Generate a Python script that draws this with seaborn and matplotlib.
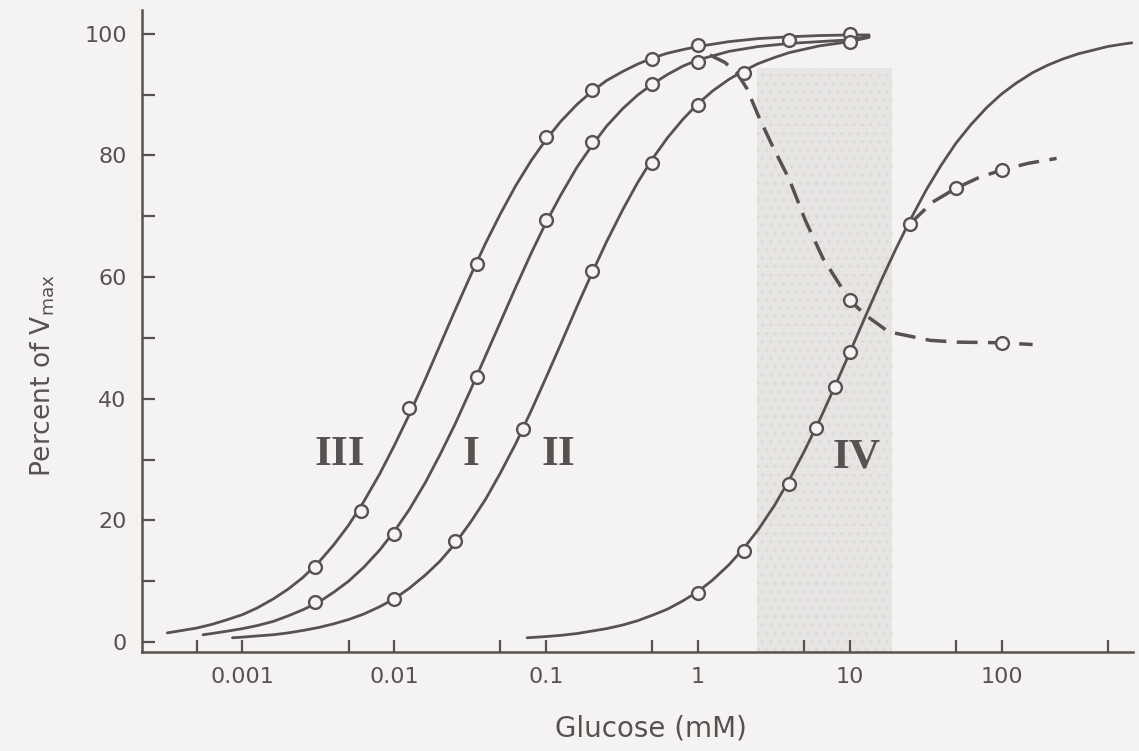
import matplotlib
matplotlib.use("Agg")
import matplotlib.pyplot as plt
from matplotlib.ticker import NullFormatter
import seaborn as sns

# ---------------- data ----------------
# measured points (glucose mM, percent of Vmax)
iii_x = [0.003, 0.006, 0.0125, 0.035, 0.1, 0.2, 0.5, 1, 4, 10]
iii_y = [12.4, 21.5, 38.5, 62.2, 83.0, 90.8, 95.9, 98.1, 99.0, 99.9]
i_x = [0.003, 0.01, 0.035, 0.1, 0.2, 0.5, 1, 10]
i_y = [6.6, 17.8, 43.5, 69.3, 82.2, 91.7, 95.3, 98.6]
ii_x = [0.01, 0.025, 0.07, 0.2, 0.5, 1, 2]
ii_y = [7.1, 16.6, 35.0, 61.0, 78.8, 88.3, 93.6]
iv_x = [1, 2, 4, 6, 8, 10, 25]
iv_y = [8.0, 15.0, 26.0, 35.2, 42.0, 47.7, 68.8]
low_x = [10, 100]
low_y = [56.2, 49.2]
up_x = [50, 100]
up_y = [74.6, 77.6]

# curve traces
iii_tx = [0.00032, 0.0004, 0.0005, 0.00063, 0.0008, 0.001, 0.00125, 0.0016, 0.002, 0.0025,
          0.0032, 0.004, 0.005, 0.0063, 0.008, 0.01, 0.0125, 0.016, 0.02, 0.025,
          0.032, 0.04, 0.05, 0.063, 0.08, 0.1, 0.125, 0.16, 0.2, 0.25,
          0.32, 0.4, 0.5, 0.63, 0.8, 1, 1.6, 2.5, 4, 6.3, 10, 13.4]
iii_ty = [1.5, 1.9, 2.3, 2.9, 3.7, 4.5, 5.6, 7.1, 8.7, 10.6,
          13.2, 16.0, 19.2, 23.1, 27.6, 32.3, 37.3, 43.2, 48.8, 54.4,
          60.4, 65.6, 70.4, 75.0, 79.2, 82.6, 85.6, 88.4, 90.5, 92.3,
          93.8, 95.0, 96.0, 96.8, 97.4, 97.9, 98.7, 99.2, 99.5, 99.7, 99.8, 99.8]
i_tx = [0.00055, 0.00063, 0.0008, 0.001, 0.00125, 0.0016, 0.002, 0.0025, 0.0032, 0.004,
        0.005, 0.0063, 0.008, 0.01, 0.0125, 0.016, 0.02, 0.025, 0.032, 0.04,
        0.05, 0.063, 0.08, 0.1, 0.125, 0.16, 0.2, 0.25, 0.32, 0.4,
        0.5, 0.63, 0.8, 1, 1.6, 2.5, 4, 6.3, 10, 13.4]
i_ty = [1.2, 1.4, 1.8, 2.2, 2.7, 3.4, 4.3, 5.3, 6.6, 8.2,
        10.0, 12.3, 15.1, 18.2, 21.7, 26.2, 30.8, 35.7, 41.6, 47.1,
        52.6, 58.3, 64.0, 69.0, 73.5, 78.1, 81.6, 84.8, 87.7, 89.9,
        91.7, 93.3, 94.7, 95.7, 97.1, 97.9, 98.4, 98.7, 99.0, 99.6]
ii_tx = [0.00086, 0.001, 0.00125, 0.0016, 0.002, 0.0025, 0.0032, 0.004, 0.005, 0.0063,
         0.008, 0.01, 0.0125, 0.016, 0.02, 0.025, 0.032, 0.04, 0.05, 0.063,
         0.08, 0.1, 0.125, 0.16, 0.2, 0.25, 0.32, 0.4, 0.5, 0.63,
         0.8, 1, 1.25, 1.6, 2, 2.5, 3.2, 4, 6.3, 10, 13.4]
ii_ty = [0.7, 0.8, 1.0, 1.2, 1.5, 1.9, 2.4, 3.0, 3.7, 4.6,
         5.8, 7.1, 8.8, 11.0, 13.3, 16.1, 19.8, 23.5, 27.8, 32.6,
         38.1, 43.5, 49.0, 55.2, 60.6, 65.8, 71.1, 75.5, 79.4, 82.9,
         86.0, 88.5, 90.6, 92.5, 93.9, 95.1, 96.1, 96.9, 98.0, 98.7, 99.4]
iv_tx = [0.075, 0.1, 0.125, 0.16, 0.2, 0.25, 0.32, 0.4, 0.5, 0.63,
         0.8, 1, 1.25, 1.6, 2, 2.5, 3.2, 4, 5, 6.3,
         8, 10, 12.5, 16, 20, 25, 32, 40, 50, 63,
         80, 100, 125, 160, 200, 250, 320, 400, 500, 630, 720]
iv_ty = [0.7, 0.9, 1.1, 1.4, 1.8, 2.2, 2.8, 3.5, 4.4, 5.4,
         6.8, 8.3, 10.2, 12.7, 15.4, 18.5, 22.5, 26.7, 31.3, 36.4,
         42.1, 47.6, 53.2, 59.3, 64.5, 69.4, 74.4, 78.4, 82.0, 85.1,
         87.9, 90.1, 91.9, 93.6, 94.8, 95.8, 96.7, 97.3, 97.9, 98.3, 98.5]
low_tx = [1.2, 1.5, 1.8, 2.1, 2.5, 3.06, 4, 5.1, 6.65, 8.7, 10, 12.6, 18, 33.7, 51, 100, 160]
low_ty = [96.5, 95.3, 93.6, 91.0, 86.5, 81.8, 76.0, 69.3, 63.1, 58.5, 56.2, 53.8, 51.0, 49.6, 49.3, 49.2, 48.9]
up_tx = [25, 35, 50, 70, 100, 150, 230]
up_ty = [68.8, 72.3, 74.6, 76.3, 77.6, 78.7, 79.5]

# curve labels
curve_names = ["III", "I", "II", "IV"]
name_x = [0.0044, 0.032, 0.121, 11]
name_y = [30.7, 30.7, 30.7, 30.3]

# shaded (physiological) glucose range, mM
band = [2.45, 19]

x_major = [0.001, 0.01, 0.1, 1, 10, 100]
x_major_labels = ["0.001", "0.01", "0.1", "1", "10", "100"]
x_minor = [0.0005, 0.005, 0.05, 0.5, 5, 50, 500]
y_major = [0, 20, 40, 60, 80, 100]
y_minor = [10, 30, 50, 70, 90]

# ---------------- drawing ----------------
sns.set_theme(style="ticks")
plt.rcParams["font.family"] = ["DejaVu Sans"]
plt.rcParams["mathtext.fontset"] = "dejavusans"

INK = "#575251"
BG = "#f4f3f1"

fig = plt.figure(figsize=(11.39, 7.51), dpi=100, facecolor=BG)
ax = fig.add_axes([0.12467, 0.13182, 0.87006, 0.85486])
ax.set_facecolor(BG)
ax.set_xscale("log")
ax.set_xlim(0.000218, 733)
ax.set_ylim(-1.64, 103.9)

ax.axvspan(band[0], band[1], ymin=0.0, ymax=0.91, facecolor="#e7e5e3", edgecolor="#dcd9d6",
           hatch="..", lw=0, zorder=0)

for tx, ty in [(iii_tx, iii_ty), (i_tx, i_ty), (ii_tx, ii_ty), (iv_tx, iv_ty)]:
    sns.lineplot(x=tx, y=ty, ax=ax, color=INK, lw=2.0, sort=False, estimator=None, zorder=2)
for tx, ty in [(low_tx, low_ty), (up_tx, up_ty)]:
    sns.lineplot(x=tx, y=ty, ax=ax, color=INK, lw=2.5, linestyle=(0, (6, 3)),
                 sort=False, estimator=None, zorder=2)

for px, py in [(iii_x, iii_y), (i_x, i_y), (ii_x, ii_y), (iv_x, iv_y), (low_x, low_y), (up_x, up_y)]:
    sns.scatterplot(x=px, y=py, ax=ax, marker="o", s=85, facecolor=BG, edgecolor=INK,
                    linewidth=1.7, zorder=3)

for name, nx, ny in zip(curve_names, name_x, name_y):
    ax.text(nx, ny, name, family="Liberation Serif", fontweight="bold", fontsize=31,
            color=INK, ha="center", va="center", zorder=4)

ax.set_xticks(x_major)
ax.set_xticklabels(x_major_labels)
ax.set_xticks(x_minor, minor=True)
ax.xaxis.set_minor_formatter(NullFormatter())
ax.set_yticks(y_major)
ax.set_yticklabels([str(v) for v in y_major])
ax.set_yticks(y_minor, minor=True)

ax.tick_params(axis="both", which="both", direction="in", length=9, width=1.6, color=INK,
               labelcolor=INK, labelsize=16)
ax.tick_params(axis="x", which="both", pad=11)
ax.tick_params(axis="y", which="both", pad=11)

sns.despine(ax=ax)
for s in ["left", "bottom"]:
    ax.spines[s].set_linewidth(1.8)
    ax.spines[s].set_color(INK)

ax.set_xlabel("Glucose (mM)", fontsize=20, color=INK)
ax.xaxis.set_label_coords(0.514, -0.098)
ax.set_ylabel(r"Percent of V$_{\mathrm{max}}$", fontsize=19, color=INK)
ax.yaxis.set_label_coords(-0.086, 0.43)

fig.savefig("out.png", dpi=100, facecolor=BG)
